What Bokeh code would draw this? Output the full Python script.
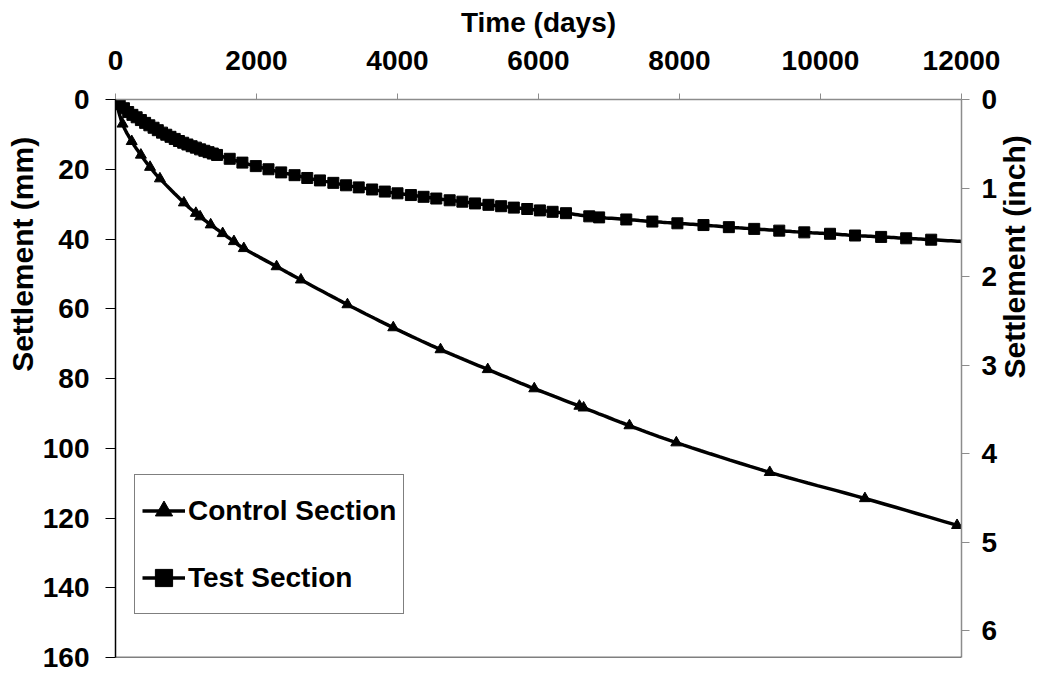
import math
from bokeh.plotting import figure
from bokeh.models import (Range1d, LinearAxis, Legend, LegendItem, Span,
                          FixedTicker, Title)
from bokeh.embed import file_html
from bokeh.resources import INLINE

# ---------------- data ----------------
control_t = [0, 100, 230, 360, 490, 630, 970, 1140, 1200, 1350, 1520, 1680, 1820,
             2285, 2630, 3290, 3940, 4610, 5280, 5940, 6580, 6640, 7290, 7955,
             9280, 10630, 11937]
control_y = [0, 7.0, 12.0, 15.9, 19.4, 22.7, 29.6, 32.6, 33.6, 35.9, 38.4, 40.7, 42.7,
             47.9, 51.7, 58.8, 65.4, 71.7, 77.4, 82.9, 87.9, 88.4, 93.5, 98.4,
             106.9, 114.4, 122.1]
control_end_t = 12000
control_end_y = 122.4

test_t = [0, 60, 120, 180, 240, 300, 360, 420, 480, 540, 600, 660, 720, 780, 840,
          900, 960, 1020, 1080, 1140, 1200, 1260, 1320, 1380, 1440,
          1620, 1800, 1990, 2170, 2350, 2540, 2720, 2900, 3090, 3270, 3450, 3640,
          3820, 4000, 4190, 4370, 4550, 4740, 4920, 5100, 5290, 5470, 5650, 5840,
          6020, 6200, 6390, 6720, 6860, 7245, 7615, 7970, 8340, 8700, 9060, 9415,
          9770, 10135, 10490, 10860, 11215, 11570]
test_y = [0, 1.3, 2.5, 3.6, 4.4, 5.1, 5.9, 6.7, 7.4, 8.1, 8.8, 9.5, 10.1, 10.7, 11.3,
          11.9, 12.4, 12.9, 13.4, 13.8, 14.3, 14.7, 15.1, 15.5, 15.9,
          17.0, 18.1, 19.1, 20.0, 20.9, 21.7, 22.5, 23.2, 23.9, 24.6, 25.2, 25.8,
          26.4, 26.9, 27.4, 27.9, 28.4, 28.9, 29.3, 29.8, 30.2, 30.6, 31.0, 31.4,
          31.8, 32.2, 32.6, 33.5, 33.8, 34.4, 35.0, 35.5, 36.0, 36.6, 37.1, 37.6,
          38.1, 38.5, 39.0, 39.4, 39.8, 40.2]
test_end_t = 12000
test_end_y = 40.7

x_ticks = [0, 2000, 4000, 6000, 8000, 10000, 12000]
mm_ticks = [0, 20, 40, 60, 80, 100, 120, 140, 160]
inch_ticks = [0, 1, 2, 3, 4, 5, 6]
MM_PER_INCH = 25.4

FONT = "Liberation Sans"
TICK_FS = "28px"
TITLE_FS = "28px"
VTITLE_FS = "30px"
GREY = "#8c8c8c"


def smooth(xs, ys, n=10):
    """Catmull-Rom smoothed path through the points (like a smoothed line)."""
    sx, sy = 846.0 / 12000.0, 558.0 / 160.0
    P = [(x * sx, y * sy) for x, y in zip(xs, ys)]
    P = [P[0]] + P + [P[-1]]
    ox, oy = [], []
    for i in range(1, len(P) - 2):
        p0, p1, p2, p3 = P[i - 1], P[i], P[i + 1], P[i + 2]
        for k in range(n):
            s = k / n
            s2, s3 = s * s, s * s * s
            px = 0.5 * ((2 * p1[0]) + (-p0[0] + p2[0]) * s +
                        (2 * p0[0] - 5 * p1[0] + 4 * p2[0] - p3[0]) * s2 +
                        (-p0[0] + 3 * p1[0] - 3 * p2[0] + p3[0]) * s3)
            py = 0.5 * ((2 * p1[1]) + (-p0[1] + p2[1]) * s +
                        (2 * p0[1] - 5 * p1[1] + 4 * p2[1] - p3[1]) * s2 +
                        (-p0[1] + 3 * p1[1] - 3 * p2[1] + p3[1]) * s3)
            ox.append(px / sx)
            oy.append(py / sy)
    ox.append(xs[-1])
    oy.append(ys[-1])
    return ox, oy


def style_axis(ax, line_color, tick_out, standoff, title_fs):
    ax.axis_line_color = line_color
    ax.axis_line_width = 1.5
    ax.major_tick_line_color = line_color
    ax.major_tick_out = tick_out
    ax.major_tick_in = 0
    ax.minor_tick_line_color = None
    ax.major_label_standoff = standoff
    ax.major_label_text_font = FONT
    ax.major_label_text_font_style = "bold"
    ax.major_label_text_font_size = TICK_FS
    ax.major_label_text_color = "black"
    ax.axis_label_text_font = FONT
    ax.axis_label_text_font_style = "bold"
    ax.axis_label_text_font_size = title_fs
    ax.axis_label_text_color = "black"


# ---------------- figure ----------------
p = figure(width=1057, height=675, output_backend="svg", toolbar_location=None,
           x_range=Range1d(0, 12000), y_range=Range1d(160, 0),
           x_axis_location="above",
           min_border_left=115, min_border_right=96, min_border_top=99,
           min_border_bottom=18)
p.outline_line_color = None
p.xgrid.visible = False
p.ygrid.visible = False
p.background_fill_color = "white"
p.border_fill_color = "white"

# top x axis
xa = p.xaxis[0]
xa.ticker = FixedTicker(ticks=x_ticks)
style_axis(xa, GREY, 6, 24, TITLE_FS)
xa.axis_label = "Time (days)"
xa.axis_label_standoff = 10

# left y axis (mm) -- title drawn as a side Title so it can sit high like the reference
ya = p.yaxis[0]
ya.ticker = FixedTicker(ticks=mm_ticks)
style_axis(ya, "black", 10, 16, VTITLE_FS)
p.add_layout(Title(text="Settlement  (mm)", align="right", offset=29, standoff=0,
                   vertical_align="middle", text_font=FONT, text_font_style="bold",
                   text_font_size=VTITLE_FS, text_color="black"), "left")

# right y axis (inch)
p.extra_y_ranges = {"inch": Range1d(160 / MM_PER_INCH, 0)}
ra = LinearAxis(y_range_name="inch", ticker=FixedTicker(ticks=inch_ticks))
style_axis(ra, GREY, 8, 12, VTITLE_FS)
ra.axis_label = "Settlement (inch)"
ra.axis_label_standoff = 14
if "axis_label_orientation" in ra.properties():
    ra.axis_label_orientation = math.pi / 2
p.add_layout(ra, "right")

# bottom frame line
p.add_layout(Span(location=160, dimension="width", line_color="black", line_width=1.5))

# ---------------- series ----------------
cx, cy = smooth(control_t + [control_end_t], control_y + [control_end_y])
tx, ty = smooth(test_t + [test_end_t], test_y + [test_end_y])
cl = p.line(cx, cy, line_color="black", line_width=3.5)
cm = p.scatter(control_t, control_y, marker="triangle", size=11,
               fill_color="black", line_color="black")
tl = p.line(tx, ty, line_color="black", line_width=3.5)
tm = p.scatter(test_t, test_y, marker="square", size=11,
               fill_color="black", line_color="black")

legend = Legend(items=[LegendItem(label="Control Section", renderers=[cl, cm]),
                       LegendItem(label="Test Section", renderers=[tl, tm])],
                location=(19, 43), orientation="vertical",
                border_line_color="black", border_line_width=1.5,
                background_fill_color="white", background_fill_alpha=1,
                padding=7, spacing=10, margin=0,
                glyph_width=43, glyph_height=57, label_height=57,
                label_standoff=3,
                label_text_font=FONT, label_text_font_style="bold",
                label_text_font_size="28px", label_text_color="black")
p.add_layout(legend, "center")

open("out.html", "w").write(file_html(p, INLINE))
